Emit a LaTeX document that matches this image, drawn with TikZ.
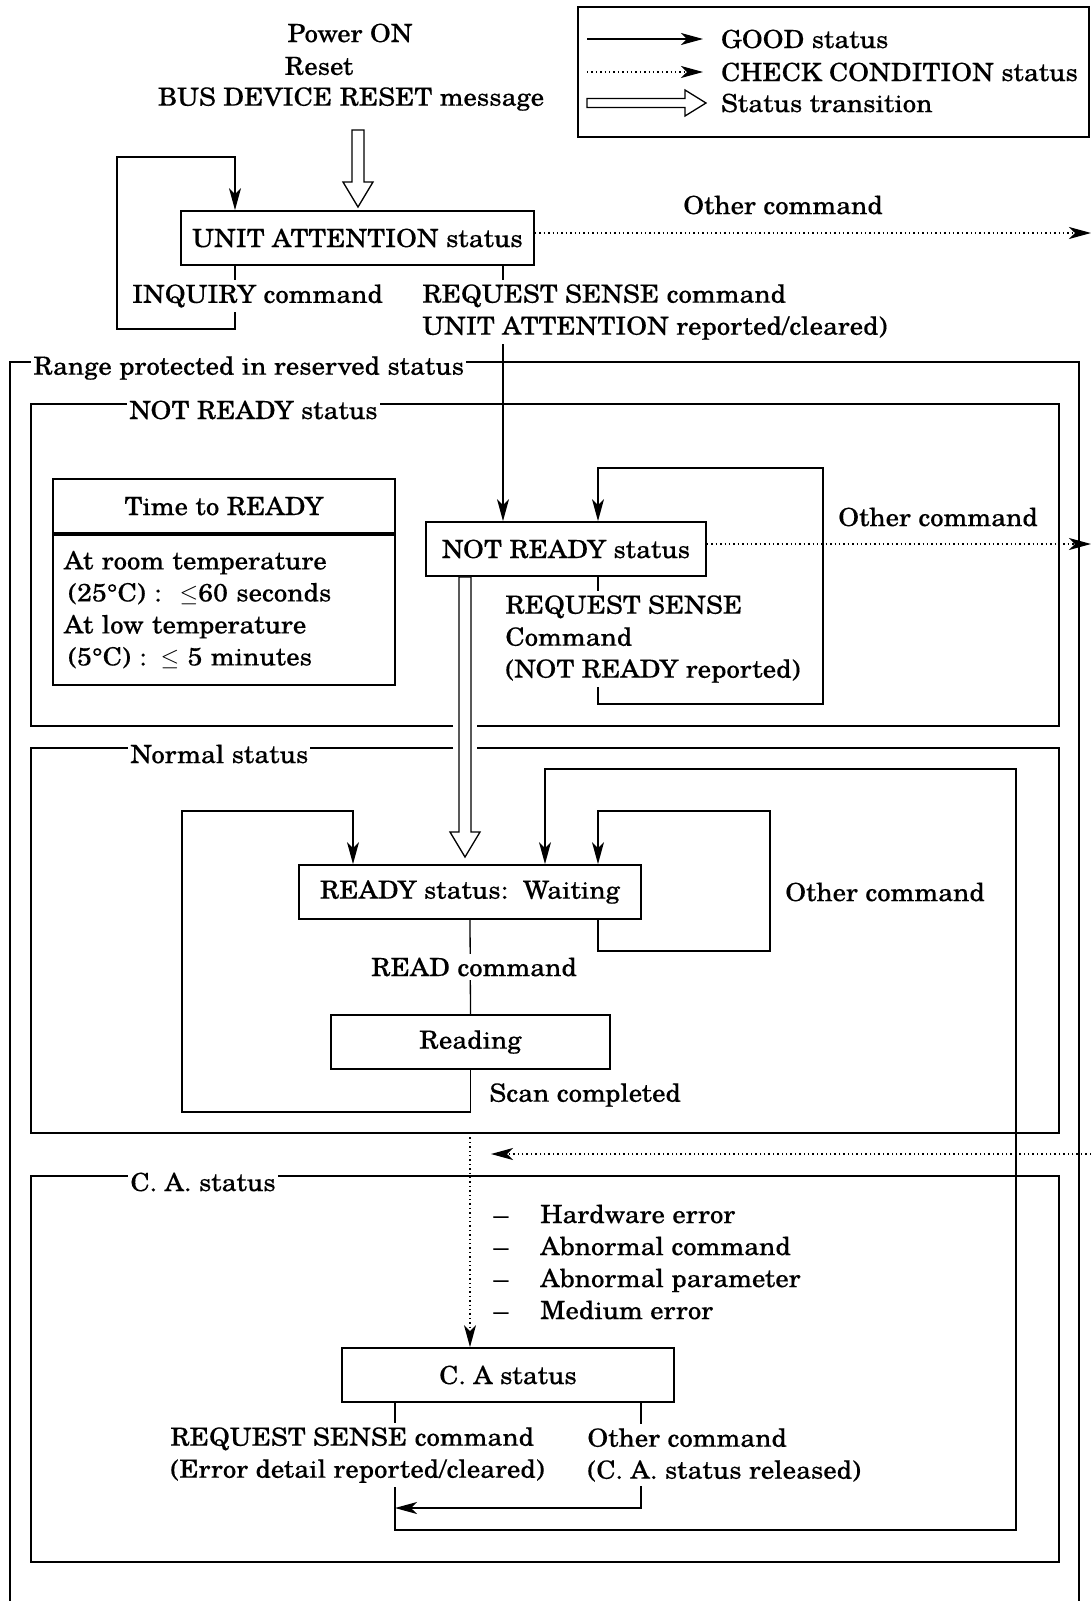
\documentclass[tikz,border=0pt]{standalone}
\usepackage{fontspec}
\setmainfont{TeX Gyre Schola}[FakeStretch=1.07, FakeBold=0.3]
\usetikzlibrary{arrows.meta,calc}

% hollow status transition arrows
\newcommand{\transdown}[2]{%
  \draw[transition] let \p1=#1, \p2=#2 in
    (\x2-3pt,\y1) -- (\x2-3pt,\y2+12.5pt) -- (\x2-7.5pt,\y2+12.5pt) -- (\x2,\y2)
    -- (\x2+7.5pt,\y2+12.5pt) -- (\x2+3pt,\y2+12.5pt) -- (\x2+3pt,\y1) -- cycle;}
\newcommand{\transright}[2]{%
  \draw[transition] let \p1=#1, \p2=#2 in
    (\x1,\y2+2.25pt) -- (\x2-10.5pt,\y2+2.25pt) -- (\x2-10.5pt,\y2+6.5pt) -- (\x2,\y2)
    -- (\x2-10.5pt,\y2-6.5pt) -- (\x2-10.5pt,\y2-2.25pt) -- (\x1,\y2-2.25pt) -- cycle;}

\begin{document}
\begin{tikzpicture}[
    x=0.5pt, y=-0.5pt,
    every node/.style={font=\fontsize{12.5pt}{16pt}\selectfont},
    box/.style={draw, line width=0.9pt, minimum height=27pt, inner sep=0pt},
    frame/.style={line width=1pt},
    good/.style={line width=0.65pt, -{Stealth[length=11pt,width=6pt,inset=3pt]}},
    plain/.style={line width=0.65pt},
    check/.style={good, dash pattern=on 0.7pt off 1.5pt},
    transition/.style={line width=0.65pt, fill=white, line join=miter},
    lbl/.style={fill=white, inner xsep=1pt, inner ysep=2pt, align=left},
    grplbl/.style={fill=white, inner xsep=1pt, inner ysep=0pt, anchor=west}
]
\useasboundingbox (0,0) rectangle (1091,1601);

% legend
\draw[line width=0.9pt] (578,7) rectangle (1089,137);
\node[anchor=west] (lgood) at (714,39) {GOOD status};
\node[anchor=west] (lcheck) at (714,72) {CHECK CONDITION status};
\node[anchor=west] (ltrans) at (714,103) {Status transition};
\draw[good] (587,39) -- ([xshift=-5.5pt]lgood.west);
\draw[check] (587,72) -- ([xshift=-5.5pt]lcheck.west);
\transright{(587,103)}{([xshift=-4pt]ltrans.west)}

% power on
\node (pwr) at (350,33) {Power ON};
\node (rst) at (319,66) {Reset};
\node (bdr) at (351,99) {BUS DEVICE RESET message};

% frames
\draw[frame] (10,1601) -- (10,362) -- (1079,362) -- (1079,1601);
\node[grplbl] (rnglbl) at (31,368) {Range protected in reserved status};
\draw[frame] (453,726) -- (31,726) -- (31,404) -- (1059,404) -- (1059,726) -- (477,726);
\node[grplbl] (nrglbl) at (127,410) {NOT READY status};
\draw[frame] (453,748) -- (31,748) -- (31,1133) -- (1059,1133) -- (1059,748) -- (477,748);
\node[grplbl] (nmglbl) at (128,754) {Normal status};
\draw[frame] (31,1176) rectangle (1059,1562);
\node[grplbl] (caglbl) at (128,1182) {C. A. status};

% states
\node[box, minimum width=176.5pt] (ua) at (357.5,238) {UNIT ATTENTION status};
\node[box, minimum width=140pt] (nr) at (566,549) {NOT READY status};
\node[box, minimum width=171pt] (ready) at (470,892) {READY status:\ \ Waiting};
\node[box, minimum width=139.5pt] (reading) at (470.5,1042) {Reading};
\node[box, minimum width=166pt] (ca) at (508,1375) {C. A status};

\node[box, minimum width=171pt] (ttrhead) at (224,506) {Time to READY};
\node[box, anchor=north, minimum height=75pt, text width=160pt, inner xsep=5.5pt, align=left]
  (ttrbody) at (ttrhead.south) {At room temperature\\
  \,(25°C) :\hspace{9pt}$\leq$60 seconds\\
  At low temperature\\
  \,(5°C) :\hspace{7pt}$\leq$ 5 minutes};

% x positions of the vertical runs
\coordinate (inqx) at (235,0);
\coordinate (uarx) at (503,0);
\coordinate (nrx) at (598,0);
\coordinate (trx) at (465,0);
\coordinate (rlx) at (353,0);
\coordinate (rrx) at (598,0);
\coordinate (olx) at (545,0);
\coordinate (calx) at (395,0);
\coordinate (carx) at (641,0);
\coordinate (redge) at (1091,0);

% transitions
\transdown{(358,130)}{(358,207)}
\transdown{(nr.south -| trx)}{(465,857)}

% GOOD status
\draw[good] (ua.south -| inqx) |- (117,329) |- (235,157) -- (ua.north -| inqx);
\draw[good] (ua.south -| uarx) -- (nr.north -| uarx);
\draw[good] (nr.south -| nrx) |- (823,704) |- (598,468) -- (nr.north -| nrx);
\draw[plain] (ready.south) -- (reading.north);
\draw[good] (reading.south) |- (182,1112) |- (353,811) -- (ready.north -| rlx);
\draw[good] (ready.south -| rrx) |- (770,951) |- (598,811) -- (ready.north -| rrx);
\draw[good] (ca.south -| calx) |- (1016,1530) |- (545,769) -- (ready.north -| olx);
\draw[good] (ca.south -| carx) |- (395,1508);

% CHECK CONDITION status
\draw[check] ([yshift=2.5pt]ua.east) coordinate (uaout) -- (uaout -| redge);
\draw[check] ([yshift=2.5pt]nr.east) coordinate (nrout) -- (nrout -| redge);
\coordinate (caret) at (1091,1154);
\draw[check] (caret) -- (491,1154);
\coordinate (nmout) at (470,1133);
\draw[check] (nmout) -- (ca.north -| nmout);

% labels
\node[lbl] (inqlbl) at (257.5,296) {INQUIRY command};
\node[lbl, anchor=west] (rsualbl) at (420,312) {REQUEST SENSE command\\UNIT ATTENTION reported/cleared)};
\node (othua) at (783,205) {Other command};
\node[lbl, anchor=west] (rsnrlbl) at (503,639) {REQUEST SENSE\\Command\\(NOT READY reported)};
\node (othnr) at (938,517) {Other command};
\node (othrd) at (885,892) {Other command};
\node[lbl] (readlbl) at (474,967) {READ command};
\node[anchor=west, inner xsep=1pt] (scanlbl) at (487,1095) {Scan completed};
\node[anchor=west, align=left, inner xsep=1pt] (errlist) at (491,1262)
  {–\hspace{16pt}Hardware error\\
   –\hspace{16pt}Abnormal command\\
   –\hspace{16pt}Abnormal parameter\\
   –\hspace{16pt}Medium error};
\node[lbl, anchor=west] (rscalbl) at (168,1455) {REQUEST SENSE command\\(Error detail reported/cleared)};
\node[lbl, anchor=west] (othcalbl) at (585,1455) {Other command\\(C. A. status released)};
\end{tikzpicture}
\end{document}
